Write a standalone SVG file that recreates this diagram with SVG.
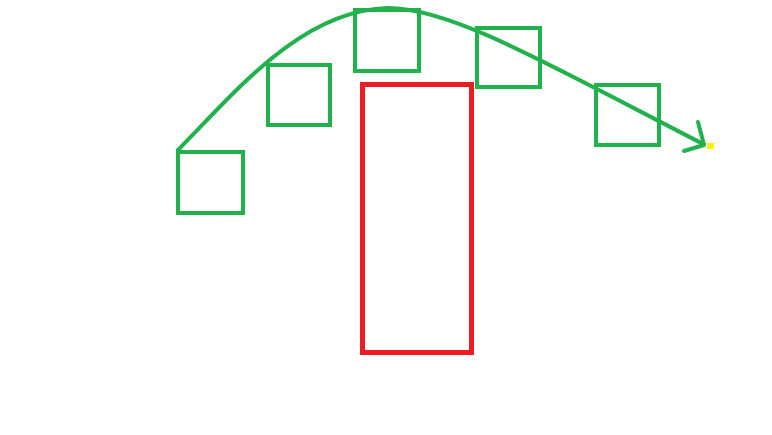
<svg xmlns="http://www.w3.org/2000/svg" width="772" height="435" viewBox="0 0 772 435">
<style>
.g{fill:none;stroke:#22b14c;stroke-width:4}
.r{fill:none;stroke:#ed1c24;stroke-width:5}
</style>
<rect width="772" height="435" fill="#fff"/>
<g id="box1"><rect class="g" x="178" y="152" width="65" height="61"/></g>
<g id="box2"><rect class="g" x="268" y="65" width="62" height="60"/></g>
<g id="box3"><rect class="g" x="355" y="10" width="64" height="61"/></g>
<g id="box4"><rect class="g" x="477" y="28" width="63" height="59"/></g>
<g id="box5"><rect class="g" x="596" y="85" width="63" height="60"/></g>
<g id="red"><rect class="r" x="362.5" y="84.5" width="109" height="268"/></g>
<g id="connectors">
<path class="g" d="M177,151 C232,96 300,10 388,8 C450,8 540,60 705,145"/>
<path class="g" stroke-linecap="round" stroke-linejoin="round" d="M698,122 L704,145 L684,151"/>
<rect x="707" y="143" width="7" height="6" fill="#fff200"/>
</g>
</svg>
